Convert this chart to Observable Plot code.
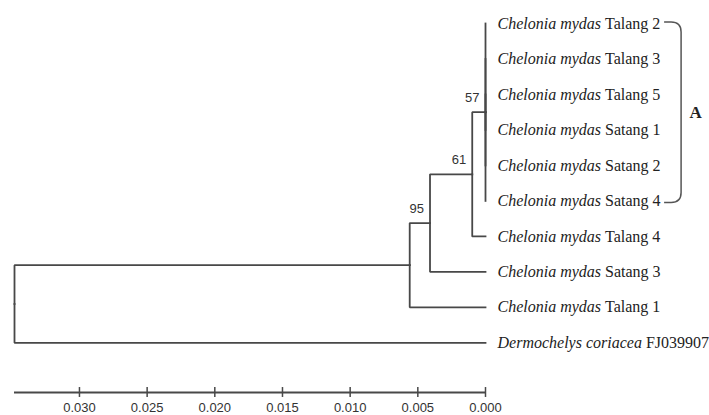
<!DOCTYPE html>
<html><head><meta charset="utf-8">
<script src="https://cdn.jsdelivr.net/npm/d3@7"></script>
<script src="https://cdn.jsdelivr.net/npm/@observablehq/plot@0.6"></script>
<style>body{margin:0;background:#fff}</style>
</head><body><div id="chart"></div>
<script>
// ---- data ----
const tipSpecies = ["Chelonia mydas","Chelonia mydas","Chelonia mydas","Chelonia mydas","Chelonia mydas","Chelonia mydas","Chelonia mydas","Chelonia mydas","Chelonia mydas","Dermochelys coriacea"];
const tipLocality = ["Talang 2","Talang 3","Talang 5","Satang 1","Satang 2","Satang 4","Talang 4","Satang 3","Talang 1","FJ039907"];
const tipParent = ["n57","n57","n57","n57","n57","n57","n61","n95","nX","root"];
const tipDepth = [0,0,0,0,0,0,0,0,0,0];
const nodeIds = ["root","nX","n95","n61","n57"];
const nodeParent = [null,"root","nX","n95","n61"];
const nodeDepth = [0.0348,0.0056,0.0041,0.00098,0];
const nodeSupport = [null,null,95,61,57];
const axisTicks = [0.030,0.025,0.020,0.015,0.010,0.005,0.000];
const cladeName = "A";
const cladeMembers = ["Talang 2","Talang 3","Talang 5","Satang 1","Satang 2","Satang 4"];

// ---- fonts ----
const serif = "'Liberation Serif','Times New Roman',serif";
const cv = document.createElement("canvas").getContext("2d");
function tw(txt, font){ cv.font = font; return cv.measureText(txt).width; }
cv.font = "16px monospace"; const mono = cv.measureText("0.030").width;
const hasNarrow = tw("0.030","16px 'Liberation Sans Narrow', monospace") !== mono;
const sans = hasNarrow ? "'Liberation Sans Narrow',sans-serif" : "'Liberation Sans',Arial,sans-serif";
const sansSize = hasNarrow ? 16 : 13;
const labelSize = 16;

// ---- layout ----
const tips = tipLocality.map((loc,i)=>({id:"t"+i, species:tipSpecies[i], loc, parent:tipParent[i], depth:tipDepth[i], y:i}));
const nodes = nodeIds.map((id,i)=>({id, parent:nodeParent[i], depth:nodeDepth[i], support:nodeSupport[i]}));
const all = [...tips, ...nodes];
const byId = new Map(all.map(d=>[d.id,d]));
function layY(n){ if (n.y !== undefined) return n.y; const ys = all.filter(c=>c.parent===n.id).map(layY); n.y = (d3.min(ys)+d3.max(ys))/2; return n.y; }
nodes.forEach(layY);
const edges = [];
all.forEach(c=>{ if(!c.parent) return; const p = byId.get(c.parent);
  edges.push({e:c.id,x:p.depth,y:p.y},{e:c.id,x:p.depth,y:c.y},{e:c.id,x:c.depth,y:c.y}); });
const root = nodes.find(n=>!n.parent);
const axisRow = tips.length + 0.4;

const labelDx = 12;
const speciesList = [...new Set(tipSpecies)];
const locDx = s => labelDx + tw(s, `italic ${labelSize}px ${serif}`) + tw(" ", `${labelSize}px ${serif}`);
const cladeTips = tips.filter(t=>cladeMembers.includes(t.loc) && t.species==="Chelonia mydas");
const cladeEnd = d3.max(cladeTips, t=> locDx(t.species) + tw(t.loc, `${labelSize}px ${serif}`));
const bx0 = cladeEnd + 4, bx1 = bx0 + 17;
const cladeTop = d3.min(cladeTips, t=>t.y), cladeBot = d3.max(cladeTips, t=>t.y);

function bracket(...args){
  const sc = args.find(a => a && typeof a.x === "function" && typeof a.y === "function");
  const X = sc.x(0), yT = sc.y(cladeTop) - 1, yB = sc.y(cladeBot) + 2;
  const x0 = X + bx0, x1 = X + bx1, r = 10;
  const p = document.createElementNS("http://www.w3.org/2000/svg","path");
  p.setAttribute("d", `M${x0},${yT}L${x1-r},${yT}Q${x1},${yT} ${x1},${yT+r}L${x1},${yB-r}Q${x1},${yB} ${x1-r},${yB}L${x0},${yB}`);
  p.setAttribute("fill","none"); p.setAttribute("stroke","#555"); p.setAttribute("stroke-width","1.5");
  return p;
}

const lineColor = "#484848";
const chart = Plot.plot({
  width: 709, height: 415,
  marginLeft: 0, marginRight: 0, marginTop: 0, marginBottom: 0,
  x: {domain: [root.depth, 0], range: [14, 485], axis: null},
  y: {domain: [0, axisRow], range: [23, 392], axis: null},
  marks: [
    Plot.line(edges, {x:"x", y:"y", z:"e", stroke: lineColor, strokeWidth: 1.8, strokeLinejoin:"miter", strokeLinecap:"square"}),
    ...speciesList.map(s => Plot.text(tips.filter(t=>t.species===s), {x:"depth", y:"y", text:"species", textAnchor:"start", dx: labelDx, fontStyle:"italic", fontFamily: serif, fontSize: labelSize, fill:"#222"})),
    ...speciesList.map(s => Plot.text(tips.filter(t=>t.species===s), {x:"depth", y:"y", text:"loc", textAnchor:"start", dx: locDx(s), fontFamily: serif, fontSize: labelSize, fill:"#222"})),
    Plot.text(nodes.filter(n=>n.support!=null), {x:"depth", y:"y", text: d=>String(d.support), textAnchor:"end", dx:-6, dy:-14, fontFamily: sans, fontSize: sansSize, fill:"#333"}),
    bracket,
    Plot.text([cladeName], {x: ()=>0, y: ()=>(cladeTop+cladeBot)/2, text: d=>d, textAnchor:"start", dx: bx1 + 8, fontFamily: serif, fontWeight:"bold", fontSize: 17, fill:"#222"}),
    Plot.ruleY([axisRow], {x1: root.depth, x2: 0, stroke: lineColor, strokeWidth: 1.8}),
    Plot.ruleX(axisTicks, {x: d=>d, y1: axisRow-0.14, y2: axisRow+0.14, stroke: lineColor, strokeWidth: 1.5}),
    Plot.text(axisTicks, {x: d=>d, y: ()=>axisRow, dy: 15.5, text: d=>d3.format(".3f")(d), fontFamily: sans, fontSize: sansSize, fill:"#333"})
  ]
});
document.getElementById("chart").appendChild(chart);
</script>
</body></html>
